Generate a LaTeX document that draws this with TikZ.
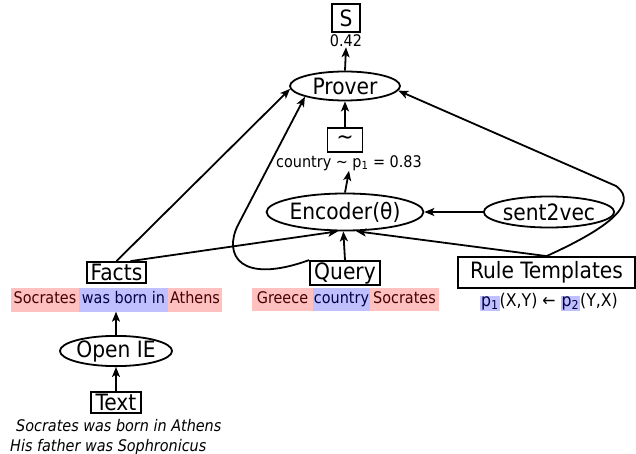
\documentclass[tikz,border=0pt]{standalone}
\usepackage{fontspec}
\setmainfont{DejaVu Sans Condensed}
\usetikzlibrary{arrows.meta,shapes.geometric,calc}

\definecolor{hlred}{RGB}{255,192,192}
\definecolor{hlblue}{RGB}{192,192,255}
\definecolor{redtext}{RGB}{70,0,0}
\definecolor{bluetext}{RGB}{0,0,70}

\newcommand{\bigfont}{\fontsize{22.5}{27}\selectfont}
\newcommand{\smallfont}{\fontsize{16}{19}\selectfont}
\newcommand{\rulefont}{\fontsize{17.5}{21}\selectfont}

\tikzset{
  flow/.style={-{Stealth[length=10pt,width=8pt,inset=2.5pt]}, line width=1.8pt},
  box/.style={draw, line width=1.8pt, rectangle, inner sep=0pt, font=\bigfont},
  oval/.style={draw, line width=1.8pt, ellipse, inner sep=0pt, font=\bigfont},
  hl/.style={inner sep=0pt, minimum height=24pt, font=\smallfont,
              text height=11.5pt, text depth=3.5pt},
  hlr/.style={hl, fill=hlred, text=redtext},
  hlb/.style={hl, fill=hlblue, text=bluetext},
  small/.style={inner sep=0pt, font=\smallfont},
}

\begin{document}
\begin{tikzpicture}[x=1pt, y=-1pt]
  \useasboundingbox (0,0) rectangle (636,454);

  % score output
  \node[box, minimum width=28pt, minimum height=28pt] (S) at (346,18) {S};
  \node[small] (score) at (346,41) {0.42};

  % prover and similarity
  \node[oval, minimum width=110pt, minimum height=29pt] (prover) at (345,86) {Prover};
  \node[box, minimum width=35pt, minimum height=24pt] (sim) at (345,140) {\textasciitilde};
  \node[small] (simval) at (349,163) {country \textasciitilde{} p\textsubscript{1} = 0.83};

  % encoder and sentence embedding
  \node[oval, minimum width=145pt, minimum height=37pt] (enc) at (345,212) {Encoder(θ)};
  \node[oval, minimum width=125pt, minimum height=31pt] (s2v) at (549,212) {sent2vec};

  % inputs
  \node[box, minimum width=59pt, minimum height=21pt] (facts) at (116.5,272.5) {Facts};
  \node[box, minimum width=70pt, minimum height=24pt] (query) at (345,273) {Query};
  \node[box, minimum width=177pt, minimum height=31pt] (rules) at (546.5,272.5) {Rule Templates};

  % highlighted fact
  \node[hlr, minimum width=68pt] (f1) at (45,299.5) {Socrates};
  \node[hlb, minimum width=89pt] (f2) at (123.5,299.5) {was born in};
  \node[hlr, minimum width=54pt] (f3) at (195,299.5) {Athens};

  % highlighted query
  \node[hlr, minimum width=61pt, minimum height=23pt] (q1) at (282.5,299.5) {Greece};
  \node[hlb, minimum width=57pt, minimum height=23pt] (q2) at (341.5,299.5) {country};
  \node[hlr, minimum width=69pt, minimum height=23pt] (q3) at (404.5,299.5) {Socrates};

  % rule template
  \begingroup
  \setlength{\fboxsep}{1pt}
  \node[inner sep=0pt, font=\rulefont] (rule) at (549,302)
    {\colorbox{hlblue}{\color{bluetext}p\textsubscript{1}}(X,Y) ← \colorbox{hlblue}{\color{bluetext}p\textsubscript{2}}(Y,X)};
  \endgroup

  % open information extraction
  \node[oval, minimum width=109pt, minimum height=25pt] (oie) at (116,351) {Open IE};
  \node[box, minimum width=50pt, minimum height=21pt] (text) at (116,402.5) {Text};
  \node[small, anchor=west, font=\smallfont\itshape] (line1) at (16,426) {Socrates was born in Athens};
  \node[small, anchor=west, font=\smallfont\itshape] (line2) at (10,447) {His father was Sophronicus};

  % connectors
  \draw[flow] (prover.north) -- (score.south);
  \draw[flow] (sim.north) -- (prover.south);
  \draw[flow] (enc.north) -- (simval.south);
  \draw[flow] (s2v.west) -- (enc.east);
  \draw[flow] (query.north) -- (enc.265);
  \draw[flow] ($(facts.north)+(14,0)$) -- (enc.250);
  \draw[flow] (rules.north) -- (enc.300);
  \draw[flow] (facts.north) -- (prover.183);
  \draw[flow] (query.north west) .. controls (240,285) and (223,255) .. (238,225) -- (prover.195);
  \draw[flow] (rules.north) .. controls (600,232) and (642,205) .. (616,186) -- (prover.355);
  \draw[flow] (oie.north) -- (oie.north |- f2.south);
  \draw[flow] (text.north) -- (oie.south);
\end{tikzpicture}
\end{document}
